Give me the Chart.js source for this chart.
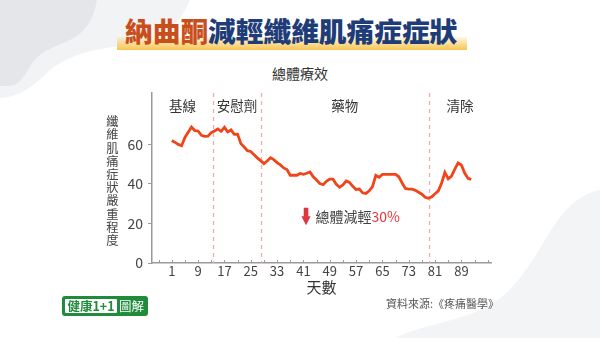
<!DOCTYPE html>
<html><head><meta charset="utf-8">
<script src="https://cdn.jsdelivr.net/npm/chart.js@4"></script>
<style>
html,body{margin:0;padding:0;background:#fff;}
#wrap{position:relative;width:600px;height:338px;overflow:hidden;font-family:"Noto Sans CJK TC","Noto Sans",sans-serif;}
svg.bg{position:absolute;left:0;top:0;}
#c{position:absolute;left:0;top:0;}
.band{position:absolute;left:117px;top:37px;width:350px;height:13px;background:linear-gradient(to bottom,rgba(252,225,140,0.25),rgba(247,193,70,0.95));}
.title{position:absolute;left:125px;top:15px;font-size:27.7px;font-weight:900;line-height:30px;white-space:nowrap;}
.title .a{color:#c84f1c;} .title .b{color:#1e3d78;}
.sub{position:absolute;left:0;width:600px;top:63px;text-align:center;font-size:14px;line-height:20px;color:#333;}
.src{position:absolute;left:386px;top:295px;font-size:11px;line-height:16px;color:#555;white-space:nowrap;}
.logo{position:absolute;left:62px;top:296px;width:86px;height:20px;background:#1f8b3b;border-radius:3px;}
.logo .w{position:absolute;left:3px;top:3px;width:52px;height:14px;background:#fff;border-radius:1px;color:#1f8b3b;font-weight:700;font-size:12.5px;line-height:14px;text-align:center;white-space:nowrap;}
.logo .g{position:absolute;left:57px;top:2px;color:#fff;font-size:12.5px;line-height:16px;white-space:nowrap;}
</style></head>
<body><div id="wrap">
<svg class="bg" width="600" height="338">
<path d="M0,0 H190 C180,25 160,42 120,46 C90,50 70,55 50,70 C35,85 20,97 0,98 Z" fill="#f2f3f5"/>
<path d="M0,0 H97 C94,18 86,32 70,40 C55,47 42,50 33,62 C26,72 22,84 10,86 L0,86 Z" fill="#e4e6ea"/>
<path d="M600,190 C575,195 560,215 545,240 C530,265 515,290 490,305 C460,322 420,325 395,338 L600,338 Z" fill="#f3f4f6"/>
</svg>
<div class="band"></div>
<div class="title"><span class="a">納曲酮</span><span class="b">減輕纖維肌痛症症狀</span></div>
<div class="sub">總體療效</div>
<canvas id="c" width="600" height="338"></canvas>
<div class="src">資料來源:《疼痛醫學》</div>
<div class="logo"><div class="w">健康1+1</div><div class="g">圖解</div></div>
</div>
<script>
const days = [1,2,3,4,5,7,8,9,10,11,12,13,14,15,16,17,18,19,20,21,22,23,24,25,26,27,28,29,30,31,32,33,34,35,36,37,38,39,40,41,42,43,44,45,46,47,48,49,50,51,52,53,54,55,56,57,58,59,60,61,62,63,64,65,66,67,68,69,70,71,72,73,74,75,76,77,78,79,80,81,82,83,84,85,86,87,88,89,90,91,92];
const scores = [62,61,60,59.3,63.5,68.8,67,66.8,64.6,64.1,64.2,66,66.8,67.8,66.6,68.6,66.3,67.3,65.1,65.2,60.4,58.7,56.8,56.4,54.8,53.2,51.8,50.3,51.6,53.2,52.3,50.8,49.6,48.1,47.3,44.4,44.4,44.4,45.3,44.9,45.4,46.1,43.6,42,40.2,39.6,41.3,42.4,42.4,39.8,38.3,39.5,41.5,40.8,38.8,37.2,37.4,35.5,35.2,36.5,38.6,44.3,43.4,44.8,44.8,44.8,44.8,44.8,43.6,40.5,37.7,37.4,37.4,36.8,35.8,34.8,33.2,32.7,33.5,35.0,36.5,40.5,45.8,42.6,44.0,47.5,50.6,49.6,45.5,42.8,42.3];
const xTickDays = [-3,1,5,9,13,17,21,25,29,33,37,41,45,49,53,57,61,65,69,73,77,81,85,89,93,97];
const xLabels = [1,9,17,25,33,41,49,57,65,73,81,89];
const yTicks = [0,20,40,60];
const phaseNames = ['基線','安慰劑','藥物','清除'];
const phaseBounds = [13.6,28,79.2];
const yAxisTitle = '纖維肌痛症狀嚴重程度';
const xAxisTitle = '天數';
const noteText = '總體減輕';
const notePct = '30%';
const noteAt = [41.8,23.4];

const FONT = '"Noto Sans CJK TC","Noto Sans",sans-serif';
const AXIS = '#9a9a9a';

const deco = {
  id:'deco',
  beforeDatasetsDraw(chart){
    const {ctx, chartArea:a, scales:{x,y}} = chart;
    ctx.save();
    ctx.strokeStyle='#f2adad'; ctx.lineWidth=1.3; ctx.setLineDash([4,4]);
    phaseBounds.forEach(d=>{const px=Math.round(x.getPixelForValue(d))+0.5;ctx.beginPath();ctx.moveTo(px,a.top);ctx.lineTo(px,a.bottom);ctx.stroke();});
    ctx.setLineDash([]);
    const edges=[x.min,...phaseBounds,x.max];
    ctx.fillStyle='#333'; ctx.font='13.5px '+FONT; ctx.textAlign='center'; ctx.textBaseline='middle';
    phaseNames.forEach((n,i)=>{ctx.fillText(n,x.getPixelForValue((edges[i]+edges[i+1])/2),a.top+12.7);});
    ctx.strokeStyle=AXIS; ctx.lineWidth=1;
    xTickDays.forEach(d=>{const px=Math.round(x.getPixelForValue(d))+0.5;ctx.beginPath();ctx.moveTo(px,a.bottom);ctx.lineTo(px,a.bottom-3);ctx.stroke();});
    ctx.fillStyle='#444'; ctx.font='12.3px '+FONT;
    [...yAxisTitle].forEach((ch,i)=>ctx.fillText(ch,112.5,121.6+i*13.2));
    const ax=x.getPixelForValue(noteAt[0]), ay=y.getPixelForValue(noteAt[1]);
    ctx.fillStyle='#e0353d';
    ctx.fillRect(ax-2.3,ay-9,4.6,9);
    ctx.beginPath();ctx.moveTo(ax-4.6,ay-0.5);ctx.lineTo(ax+4.6,ay-0.5);ctx.lineTo(ax,ay+8.5);ctx.closePath();ctx.fill();
    ctx.font='14px '+FONT; ctx.textAlign='left';
    ctx.fillStyle='#444'; ctx.fillText(noteText,ax+9.5,ay);
    const w=ctx.measureText(noteText).width;
    ctx.fillStyle='#e8323c'; ctx.fillText(notePct,ax+9.5+w,ay);
    ctx.restore();
  }
};

new Chart(document.getElementById('c'),{
  type:'line',
  data:{datasets:[{data:days.map((d,i)=>({x:d,y:scores[i]})),borderColor:'#ef4519',borderWidth:2.8,pointRadius:0,tension:0,fill:false}]},
  options:{
    responsive:false,animation:false,
    layout:{padding:{left:110,right:109,top:93,bottom:42}},
    plugins:{legend:{display:false},tooltip:{enabled:false}},
    scales:{
      x:{type:'linear',min:-5,max:98,
        afterBuildTicks:s=>{s.ticks=xTickDays.map(v=>({value:v}));},
        afterFit:s=>{s.height=33;},
        ticks:{autoSkip:false,maxRotation:0,padding:0,color:'#444',font:{family:FONT,size:13},callback:v=>xLabels.includes(v)?String(v):''},
        grid:{display:true,drawOnChartArea:false,drawTicks:false},
        border:{display:true,color:AXIS,width:1.5},
        title:{display:true,text:xAxisTitle,color:'#333',font:{family:FONT,size:15},padding:0}
      },
      y:{min:0,max:86,
        afterBuildTicks:s=>{s.ticks=yTicks.map(v=>({value:v}));},
        afterFit:s=>{s.width=42;},
        ticks:{padding:5,color:'#444',font:{family:FONT,size:14}},
        grid:{drawOnChartArea:false,drawTicks:true,tickLength:4,color:AXIS},
        border:{display:true,color:AXIS,width:1.5}
      }
    }
  },
  plugins:[deco]
});
</script>
</body></html>
